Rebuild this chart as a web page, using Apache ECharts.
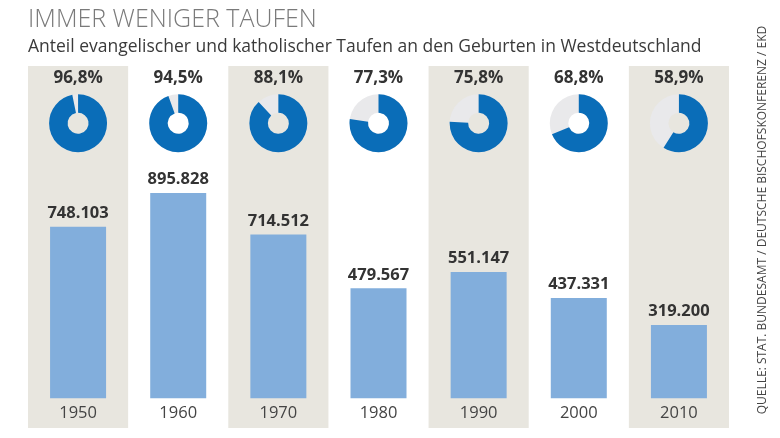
<!DOCTYPE html>
<html>
<head>
<meta charset="utf-8">
<script src="https://cdn.jsdelivr.net/npm/echarts@6/dist/echarts.min.js"></script>
<style>html,body{margin:0;padding:0;background:#fff}#c{width:780px;height:438px}</style>
</head>
<body>
<div id="c"></div>
<script>
const years = ['1950', '1960', '1970', '1980', '1990', '2000', '2010'];
const baptisms = [748103, 895828, 714512, 479567, 551147, 437331, 319200];
const shares = [96.8, 94.5, 88.1, 77.3, 75.8, 68.8, 58.9];

const FONT = '"Open Sans", "Noto Sans", sans-serif';
const DONUT_LEVEL = 1200000;

function fmtThousands(v) {
  return String(v).replace(/\B(?=(\d{3})+(?!\d))/g, '.');
}
function fmtPct(v) {
  return v.toFixed(1).replace('.', ',') + '%';
}

const chart = echarts.init(document.getElementById('c'), null, {renderer: 'canvas'});
chart.setOption({
  animation: false,
  backgroundColor: '#ffffff',
  textStyle: {fontFamily: FONT},
  title: [
    {text: 'IMMER WENIGER TAUFEN', left: 23, top: 2,
     textStyle: {fontFamily: FONT, fontSize: 25, fontWeight: 300, color: '#7a7a7a'}},
    {text: 'Anteil evangelischer und katholischer Taufen an den Geburten in Westdeutschland', left: 23, top: 33,
     textStyle: {fontFamily: FONT, fontSize: 17.5, fontWeight: 'normal', color: '#3a3a3a'}}
  ],
  graphic: [{
    type: 'text', x: 763, y: 220, rotation: Math.PI / 2,
    style: {text: 'QUELLE: STAT. BUNDESAMT / DEUTSCHE BISCHOFSKONFERENZ / EKD',
      font: '12px ' + FONT, fill: '#444', align: 'center', verticalAlign: 'middle'}
  }],
  grid: {left: 28, right: 51, top: 66, bottom: 10},
  xAxis: {
    type: 'category', data: years,
    axisLine: {show: false}, axisTick: {show: false},
    axisLabel: {inside: true, margin: 6, fontSize: 16.5, color: '#444', fontFamily: FONT},
    splitArea: {show: true, interval: 0, areaStyle: {color: ['#e8e6df', 'rgba(255,255,255,0)']}}
  },
  yAxis: {
    type: 'value', min: -130000, max: 1450000, show: false,
    splitLine: {show: false}
  },
  series: [
    {
      type: 'bar', data: baptisms, barWidth: 56,
      itemStyle: {color: '#82aedc'},
      label: {show: true, position: 'top', distance: 5, fontSize: 16.5, fontWeight: 'bold',
        color: '#333', fontFamily: FONT, formatter: p => fmtThousands(p.value)}
    },
    {
      type: 'custom', data: shares, silent: true,
      renderItem: function (params, api) {
        const idx = params.dataIndex;
        const v = api.value(0);
        const c = api.coord([idx, DONUT_LEVEL]);
        const r = 29, r0 = 10.5;
        const start = -Math.PI / 2;
        const end = start + Math.PI * 2 * v / 100;
        return {
          type: 'group',
          children: [
            {type: 'sector', shape: {cx: c[0], cy: c[1], r: r, r0: r0, startAngle: 0, endAngle: Math.PI * 2},
             style: {fill: '#e9e9eb'}},
            {type: 'sector', shape: {cx: c[0], cy: c[1], r: r, r0: r0, startAngle: start, endAngle: end, clockwise: true},
             style: {fill: '#0a6db8'}},
            {type: 'text', x: c[0], y: c[1] - 45.5,
             style: {text: fmtPct(v), font: 'bold 17px ' + FONT, fill: '#333', align: 'center', verticalAlign: 'middle'}}
          ]
        };
      },
      encode: {x: -1, y: 0}
    }
  ]
});
</script>
</body>
</html>
